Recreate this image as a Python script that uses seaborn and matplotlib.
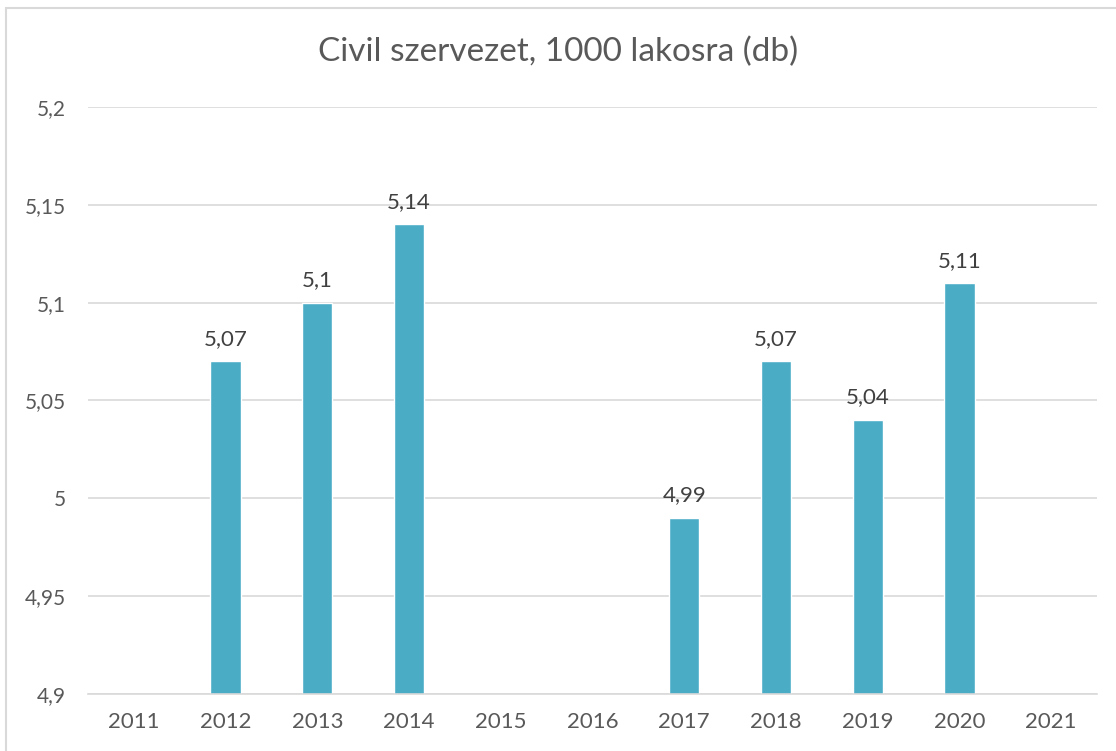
import numpy as np
import pandas as pd
import matplotlib
matplotlib.use('Agg')
import matplotlib.pyplot as plt
import seaborn as sns
from matplotlib.patches import Rectangle

# Data
years = ['2011', '2012', '2013', '2014', '2015', '2016', '2017', '2018', '2019', '2020', '2021']
values = [np.nan, 5.07, 5.10, 5.14, np.nan, np.nan, 4.99, 5.07, 5.04, 5.11, np.nan]
y_ticks = [4.9, 4.95, 5.0, 5.05, 5.1, 5.15, 5.2]
y_tick_labels = ['4,9', '4,95', '5', '5,05', '5,1', '5,15', '5,2']

df = pd.DataFrame({'ev': years, 'ertek': values})

sns.set_theme(style='white')
plt.rcParams['font.family'] = ['Lato', 'DejaVu Sans']
text_color = '#595959'
bar_color = '#4BACC6'

fig = plt.figure(figsize=(11.16, 7.51), dpi=100)
ax = fig.add_axes([88 / 1116, 1 - 694 / 751, (1097 - 88) / 1116, (694 - 107) / 751])

sns.barplot(data=df, x='ev', y='ertek', order=years, color=bar_color,
            width=0.33, saturation=1, ax=ax)

ax.set_ylim(4.9, 5.2)
ax.set_yticks(y_ticks)
ax.set_yticklabels(y_tick_labels)
ax.set_xlim(-0.5, len(years) - 0.5)
ax.yaxis.grid(True, color='#D9D9D9', linewidth=1.2)
ax.set_axisbelow(True)
for s in ['top', 'right', 'left']:
    ax.spines[s].set_visible(False)
ax.spines['bottom'].set_color('#D9D9D9')
ax.spines['bottom'].set_linewidth(1.2)
ax.tick_params(axis='both', length=0, colors=text_color)
ax.tick_params(axis='x', labelsize=16, pad=13)
ax.tick_params(axis='y', labelsize=15, pad=16)
ax.set_xlabel('')
ax.set_ylabel('')

# data labels
for i, v in enumerate(values):
    if not np.isnan(v):
        ax.annotate(f'{v:.2f}'.rstrip('0').replace('.', ','), (i, v),
                    xytext=(0, 9), textcoords='offset points',
                    ha='center', va='bottom', fontsize=16, color='#404040')

fig.text(0.5, 1 - 52 / 751, 'Civil szervezet, 1000 lakosra (db)',
         ha='center', va='center', fontsize=24, color=text_color)

# chart area border
fig.patches.append(Rectangle((6 / 1116, -0.1), 1.2, 1 - 8 / 751 + 0.1,
                             transform=fig.transFigure, fill=False,
                             edgecolor='#D9D9D9', linewidth=1.5))

fig.savefig('out.png', dpi=100)
